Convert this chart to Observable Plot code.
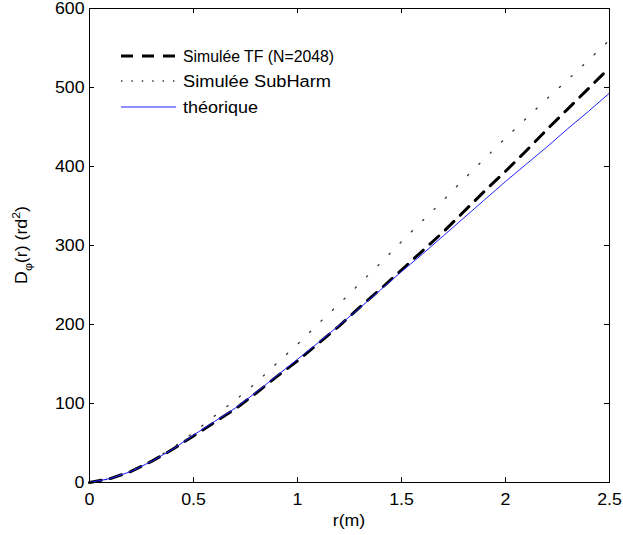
<!DOCTYPE html>
<html><head><meta charset="utf-8">
<script src="https://cdn.jsdelivr.net/npm/d3@7"></script>
<script src="https://cdn.jsdelivr.net/npm/@observablehq/plot@0.6"></script>
<style>
body{margin:0;background:#fff;}
svg{font-family:"Liberation Sans",Arial,Helvetica,sans-serif;}
</style>
</head><body><div id="chart"></div>
<script>
// ---- data ----
const rValues    = [0,0.1,0.2,0.3,0.4,0.5,0.6,0.7,0.8,0.9,1.0,1.1,1.2,1.3,1.4,1.5,1.6,1.7,1.8,1.9,2.0,2.1,2.2,2.3,2.4,2.5];
const simTF      = [0,5,14,27,42,59,76,93,113,134,154,176,198,222,245,269,293,317,343,369,394,420,447,473,499,525];
const simSubHarm = [0,5,15,28,44,63,84,104,126,151,175,201,226,252,278,305,331,357,384,410,436,461,486,510,535,560];
const theorique  = [0,5,14,27,42,60,77,94,114,135,156,177,199,221,244,267,289,312,335,358,381,403,425,448,470,493];
const seriesNames = ["Simulée TF (N=2048)", "Simulée SubHarm", "théorique"];
const xTicks = [0,0.5,1,1.5,2,2.5];
const yTicks = [0,100,200,300,400,500,600];
const xLabel = "r(m)";

// ---- layout / style ----
const W = 623, H = 535;
const mL = 89, mR = 14, mT = 8, mB = 53;
const plotW = W - mL - mR, plotH = H - mT - mB;
const tickLen = 5;
const FS = 16;
const stretch = 1.11;
const legendWidths = [151, 148, 75];

const table = (vals) => rValues.map((r, i) => ({r, v: vals[i]}));

const styles = [
  {stroke: "black", strokeWidth: 3, strokeDasharray: "12,9"},
  {stroke: "#333", strokeWidth: 1.3, strokeDasharray: "1.4,14.5"},
  {stroke: "#1f1fff", strokeWidth: 1}
];

const svg = Plot.plot({
  width: W, height: H,
  marginLeft: mL, marginRight: mR, marginTop: mT, marginBottom: mB,
  style: {fontFamily: "'Liberation Sans', Arial, sans-serif", fontSize: FS + "px", background: "white", color: "black"},
  x: {domain: [0, 2.5]},
  y: {domain: [0, 600]},
  marks: [
    Plot.line(table(simTF), {x: "r", y: "v", ...styles[0]}),
    Plot.line(table(simSubHarm), {x: "r", y: "v", ...styles[1]}),
    Plot.line(table(theorique), {x: "r", y: "v", ...styles[2]}),
    Plot.frame({stroke: "black", strokeWidth: 1}),
    Plot.tickX(xTicks, {x: d => d, insetTop: plotH - tickLen, stroke: "black"}),
    Plot.tickX(xTicks, {x: d => d, insetBottom: plotH - tickLen, stroke: "black"}),
    Plot.tickY(yTicks, {y: d => d, insetRight: plotW - tickLen, stroke: "black"}),
    Plot.tickY(yTicks, {y: d => d, insetLeft: plotW - tickLen, stroke: "black"}),
    Plot.axisX(xTicks, {tickSize: 0, tickPadding: 11, label: null, tickFormat: d => String(d), fontSize: FS}),
    Plot.axisY(yTicks, {tickSize: 0, tickPadding: 5, label: null, tickFormat: d => String(d), fontSize: FS})
  ]
});

const s = d3.select(svg);

// legend (no box)
const leg = s.append("g").attr("class", "legend").attr("font-size", FS).attr("fill", "black").attr("text-anchor", "start");
const rowsY = [56, 81, 107];
const legDash = ["12,9", "1.4,9", null];
seriesNames.forEach((name, i) => {
  leg.append("line")
    .attr("x1", 121).attr("x2", 176).attr("y1", rowsY[i]).attr("y2", rowsY[i])
    .attr("stroke", styles[i].stroke).attr("stroke-width", styles[i].strokeWidth)
    .attr("stroke-dasharray", legDash[i]);
  leg.append("text").attr("x", 183).attr("y", rowsY[i]).attr("dy", "0.36em")
    .attr("text-anchor", "start")
    .attr("textLength", legendWidths[i]).attr("lengthAdjust", "spacingAndGlyphs")
    .text(name);
});

// x label
s.append("text").attr("class", "stretch").attr("x", mL + plotW / 2).attr("y", 526)
  .attr("text-anchor", "middle").attr("font-size", FS).attr("fill", "black").text(xLabel);

// y label: D_φ(r) (rd^2)
const yl = s.append("text").attr("class", "stretch")
  .attr("transform", `translate(27,${mT + plotH / 2}) rotate(-90)`)
  .attr("text-anchor", "middle").attr("font-size", FS).attr("fill", "black");
yl.append("tspan").text("D");
yl.append("tspan").attr("dy", 5).attr("font-size", 11).text("φ");
yl.append("tspan").attr("dy", -5).text("(r) (rd");
yl.append("tspan").attr("dy", -7).attr("font-size", 11).text("2");
yl.append("tspan").attr("dy", 7).text(")");

document.getElementById("chart").appendChild(svg);

// horizontally widen axis texts slightly to match the reference rendering
s.selectAll("[aria-label$='tick label'] text, text.stretch").each(function() {
  const w = this.getComputedTextLength();
  if (w > 0) {
    this.setAttribute("textLength", (w * stretch).toFixed(1));
    this.setAttribute("lengthAdjust", "spacingAndGlyphs");
  }
});
</script>
</body></html>
